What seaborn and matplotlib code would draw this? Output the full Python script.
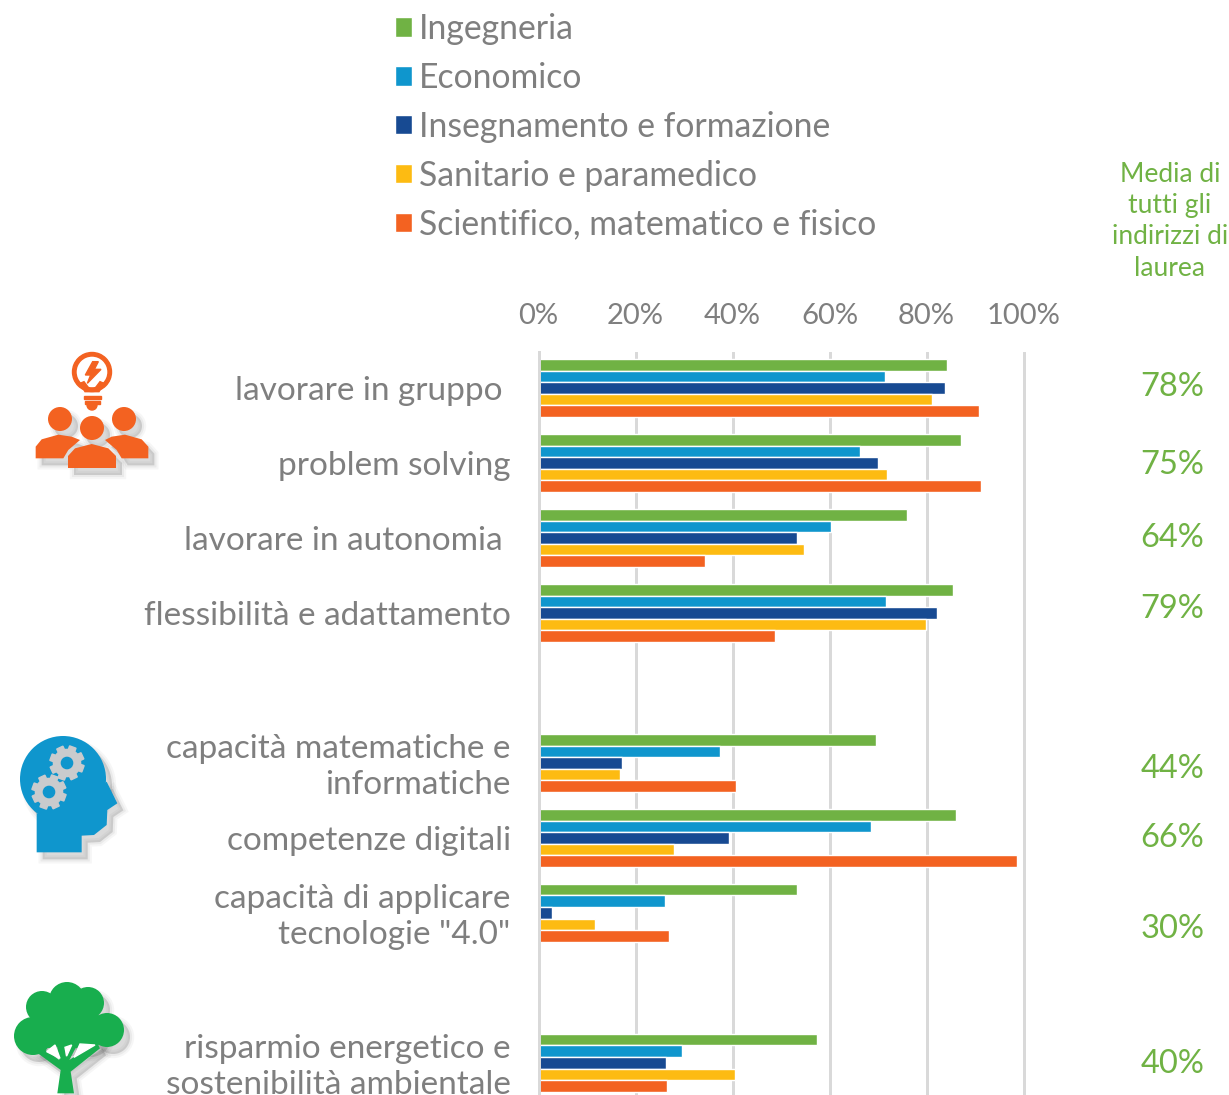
import pandas as pd
import matplotlib
matplotlib.use("Agg")
import matplotlib.pyplot as plt
import seaborn as sns
from matplotlib.patches import Circle, Polygon, Rectangle, Wedge
from matplotlib.transforms import Affine2D, ScaledTranslation

# Dati
categorie = ["lavorare in gruppo ", "problem solving", "lavorare in autonomia ", "flessibilità e adattamento", " ",
             "capacità matematiche e\ninformatiche", "competenze digitali",
             "capacità di applicare\ntecnologie \"4.0\"", "  ",
             "risparmio energetico e\nsostenibilità ambientale"]
ingegneria = [84.2, 87.1, 76.0, 85.5, None, 69.6, 86.1, 53.3, None, 57.4]
economico = [71.4, 66.3, 60.3, 71.6, None, 37.4, 68.6, 26.1, None, 29.6]
insegnamento = [83.8, 70.0, 53.3, 82.2, None, 17.2, 39.3, 2.8, None, 26.3]
sanitario = [81.1, 71.9, 54.7, 79.9, None, 16.8, 27.9, 11.6, None, 40.5]
scientifico = [90.8, 91.2, 34.3, 48.8, None, 40.7, 98.7, 26.9, None, 26.5]
indirizzi = ["Ingegneria", "Economico", "Insegnamento e formazione",
             "Sanitario e paramedico", "Scientifico, matematico e fisico"]
colori = ["#70B244", "#0F96CD", "#174A92", "#FDBB12", "#F36221"]
media = ["78%", "75%", "64%", "79%", "44%", "66%", "30%", "40%"]
media_y = [387, 465, 538, 609, 769, 838, 929, 1064]
tick_valori = [0, 20, 40, 60, 80, 100]

GRIGIO = "#7F7F7F"
VERDE = "#70B244"
W, H = 1229, 1095

sns.set_theme(style="white")
plt.rcParams['font.family'] = ['Lato', 'DejaVu Sans']

righe = []
for nome, valori in zip(indirizzi, [ingegneria, economico, insegnamento, sanitario, scientifico]):
    for cat, v in zip(categorie, valori):
        righe.append({"categoria": cat, "indirizzo": nome, "valore": v})
df = pd.DataFrame(righe)

fig = plt.figure(figsize=(W / 100, H / 100), dpi=100)
ax = fig.add_axes([538.5 / W, 0, 533.5 / W, (H - 352) / H])
sns.barplot(data=df, y="categoria", x="valore", hue="indirizzo", order=categorie,
            hue_order=indirizzi, palette=colori, width=0.77, saturation=1, ax=ax)
ax.set_xlim(0, 110)
ax.set_ylim(9.43, -0.48)
ax.set_xlabel("")
ax.set_ylabel("")
ax.set_xticks(tick_valori)
ax.set_xticklabels([f"{t}%" for t in tick_valori])
ax.xaxis.tick_top()
ax.tick_params(axis="x", length=0, pad=16.5, labelsize=21, labelcolor=GRIGIO)
ax.tick_params(axis="y", length=0, pad=20, labelsize=24, labelcolor=GRIGIO)
ax.grid(axis="x", color="#D9D9D9", lw=2.16)
ax.set_axisbelow(True)
sns.despine(ax=ax, top=True, right=True, bottom=True)
ax.spines["left"].set_color("#D9D9D9")
ax.spines["left"].set_linewidth(2.16)

# le etichette su due righe stanno un po' piu in alto
su = ScaledTranslation(0, 2 / 100, fig.dpi_scale_trans)
for lab in ax.get_yticklabels():
    if "\n" in lab.get_text():
        lab.set_linespacing(1.25)
        lab.set_transform(lab.get_transform() + su)

sns.move_legend(ax, "upper left", bbox_to_anchor=(395 / W, 1 - 13 / H), bbox_transform=fig.transFigure,
                title=None, frameon=False, fontsize=24.3, labelcolor=GRIGIO, ncol=1, borderpad=0, borderaxespad=0,
                handlelength=0.5, handleheight=0.5, handletextpad=0.2, labelspacing=0.5)

# Sovrapposizione in pixel per testi e icone
ov = fig.add_axes([0, 0, 1, 1], zorder=5)
ov.set_xlim(0, W)
ov.set_ylim(H, 0)
ov.axis("off")

for y, riga in zip([174, 205, 237, 269], ["Media di", "tutti gli", "indirizzi di", "laurea"]):
    ov.text(1170, y, riga, color=VERDE, fontsize=19, ha="center", va="center")
for y, m in zip(media_y, media):
    ov.text(1172.5, y, m, color=VERDE, fontsize=23.5, ha="center", va="center")


def disegna(forme, colore):
    # ombra sfumata e poi la forma
    for lw, a in [(6, 0.05), (3, 0.07), (0, 0.1)]:
        for f in forme:
            s = f()
            s.set(facecolor="#555555", edgecolor="#555555", lw=lw, alpha=a)
            s.set_transform(Affine2D().translate(6, 7) + ov.transData)
            ov.add_patch(s)
    for f in forme:
        s = f()
        s.set(facecolor=colore, edgecolor="none")
        ov.add_patch(s)


def cerchio(x, y, r):
    return lambda: Circle((x, y), r)


def poli(punti):
    return lambda: Polygon(punti, closed=True)


def z(punti, x0, y0):
    return [(x0 + a / 3, y0 + b / 3) for a, b in punti]


# Icona persone e lampadina
ARANCIO = "#F36221"
corpo_sx = poli(z([(107, 355), (107, 320), (125, 298), (175, 284), (215, 290), (240, 300), (205, 330), (190, 355)], 0, 340))
corpo_dx = poli(z([(445, 355), (445, 320), (425, 298), (375, 284), (335, 290), (315, 300), (350, 330), (365, 355)], 0, 340))
corpo_c = poli(z([(204, 384), (204, 348), (225, 325), (275, 312), (325, 325), (348, 348), (348, 384)], 0, 340))
disegna([corpo_sx, corpo_dx, corpo_c, cerchio(60, 419, 12), cerchio(124, 419, 12), cerchio(92, 428, 12)], ARANCIO)
ov.add_patch(Wedge((92, 372), 19.5, 0, 360, width=3.5, color=ARANCIO))
ov.add_patch(Polygon(z([(240, 130), (255, 155), (297, 155), (312, 130), (300, 125), (285, 145), (267, 145), (252, 125)], 0, 340), color=ARANCIO))
ov.add_patch(Rectangle((84, 396), 17, 3, color=ARANCIO))
ov.add_patch(Rectangle((85, 401), 15, 3, color=ARANCIO))
ov.add_patch(Wedge((92, 405), 5, 0, 180, color=ARANCIO))
ov.add_patch(Polygon(z([(278, 65), (256, 105), (272, 105), (262, 130), (303, 88), (283, 88), (295, 65)], 0, 340), color=ARANCIO))

# Icona testa e ingranaggi
BLU = "#0F96CD"
testa = poli(z([(110, 382), (110, 265), (190, 280), (320, 170), (352, 235), (322, 255), (320, 300), (282, 330), (245, 332), (245, 382)], 0, 725))
disegna([cerchio(63, 779, 43), testa], BLU)


def ingranaggio(cx, cy, r):
    ov.add_patch(Circle((cx, cy), r * 0.8, color="#C9CBCD"))
    for ang in range(0, 180, 45):
        denti = Rectangle((cx - r, cy - r * 0.2), 2 * r, r * 0.4, color="#C9CBCD")
        denti.set_transform(Affine2D().rotate_deg_around(cx, cy, ang + 20) + ov.transData)
        ov.add_patch(denti)
    ov.add_patch(Circle((cx, cy), r * 0.33, color=BLU))


ingranaggio(67, 763, 17)
ingranaggio(49, 792, 17)

# Icona albero
VERDE_ALBERO = "#18AE4E"
tronco = poli(z([(172, 370), (222, 370), (212, 305), (300, 235), (290, 215), (208, 270), (245, 200), (225, 195), (198, 262), (190, 200), (168, 205), (178, 270), (115, 225), (100, 240), (182, 300)], 0, 970))
disegna([cerchio(42, 1007, 16), cerchio(67, 1000, 18), cerchio(88, 1003, 16), cerchio(33, 1036, 19),
         cerchio(107, 1030, 17), cerchio(67, 1023, 26), cerchio(85, 1030, 20), cerchio(48, 1030, 18), tronco], VERDE_ALBERO)
ov.add_patch(Polygon(z([(140, 245), (165, 225), (180, 265)], 0, 970), color="white"))
ov.add_patch(Polygon(z([(195, 232), (215, 225), (200, 258)], 0, 970), color="white"))
ov.add_patch(Polygon(z([(240, 222), (285, 225), (222, 262)], 0, 970), color="white"))

fig.savefig("out.png", dpi=100)
